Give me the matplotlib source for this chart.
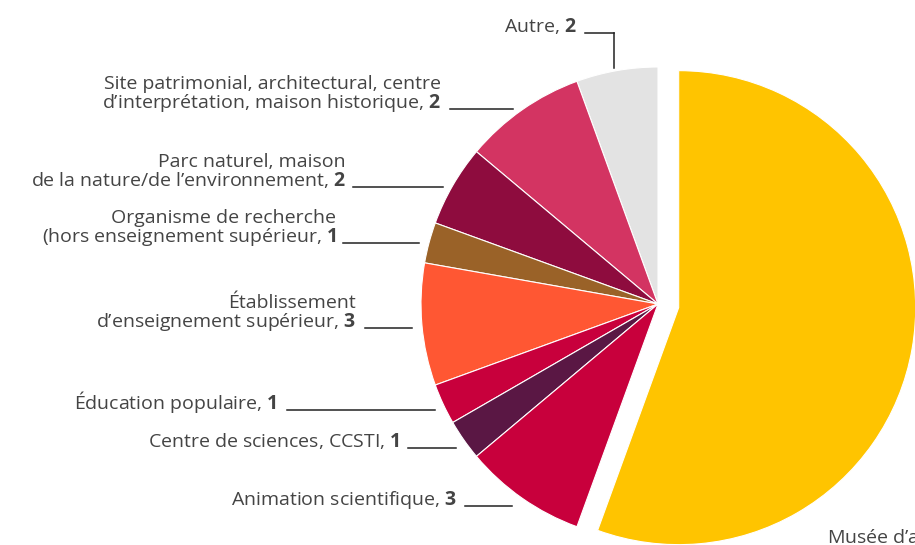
import matplotlib.pyplot as plt

plt.rcParams['font.family'] = ['Open Sans', 'DejaVu Sans']
plt.rcParams['mathtext.fontset'] = 'custom'
plt.rcParams['mathtext.rm'] = 'Open Sans'
plt.rcParams['mathtext.bf'] = 'Open Sans:bold'

# slices, counter-clockwise from 12 o'clock (sizes as drawn in the picture)
categories = ['Autre', 'Site patrimonial', 'Parc naturel', 'Organisme de recherche',
              'Établissement sup.', 'Éducation populaire', 'Centre de sciences',
              'Animation scientifique', "Musée"]
values = [2, 3, 2, 1, 3, 1, 1, 3, 20]
shown = ['2', '2', '2', '1', '3', '1', '1', '3', '20']
label_text = [
    'Autre,',
    'Site patrimonial, architectural, centre\nd\u2019interprétation, maison historique,',
    'Parc naturel, maison\nde la nature/de l\u2019environnement,',
    'Organisme de recherche\n(hors enseignement supérieur,',
    'Établissement\nd\u2019enseignement supérieur,',
    'Éducation populaire,',
    'Centre de sciences, CCSTI,',
    'Animation scientifique,',
    'Musée d\u2019art, d\u2019histoire, de sciences,',
]
colors = ['#E3E3E3', '#D33462', '#8E0C3E', '#9A6228', '#FF5733',
          '#C8003C', '#5A1744', '#C8003C', '#FFC400']

W, H = 915, 545
fig = plt.figure(figsize=(W / 100, H / 100), dpi=100)
ax = fig.add_axes([0, 0, 1, 1])

explode = [0] * 8 + [21]
ax.pie(values, colors=colors, startangle=90, counterclock=True,
       center=(658, H - 304), radius=237, explode=explode,
       wedgeprops=dict(edgecolor='white', linewidth=0.8))

# label right edge x, leader line (x0, x1) and its y, in pixels from top-left
layout = [
    (577, (585, 614), 33),
    (441, (450, 513), 109),
    (346, (353, 443), 187),
    (336, (343, 419), 243),
    (356, (365, 412), 328),
    (277, (287, 435), 410),
    (400, (408, 456), 448),
    (457, (465, 512), 506),
]
for i, (xr, lx, ly) in enumerate(layout):
    lines = label_text[i].split('\n')
    lines[-1] = lines[-1] + ' $\\mathbf{' + shown[i] + '}$'
    ax.text(xr, H - ly + 1, '\n'.join(lines), ha='right', va='baseline',
            fontsize=14, color='#444444', linespacing=0.92,
            multialignment='right')
    ax.plot(lx, [H - ly, H - ly], color='#222222', lw=1.1)
ax.plot([614, 614], [H - 33, H - 68], color='#222222', lw=1.1)

ax.text(827, H - 543, label_text[8] + ' $\\mathbf{' + shown[8] + '}$',
        ha='left', va='baseline', fontsize=14, color='#444444')

ax.set_xlim(0, W)
ax.set_ylim(0, H)
ax.set_aspect('equal')
ax.axis('off')
fig.savefig('out.png', dpi=100)
